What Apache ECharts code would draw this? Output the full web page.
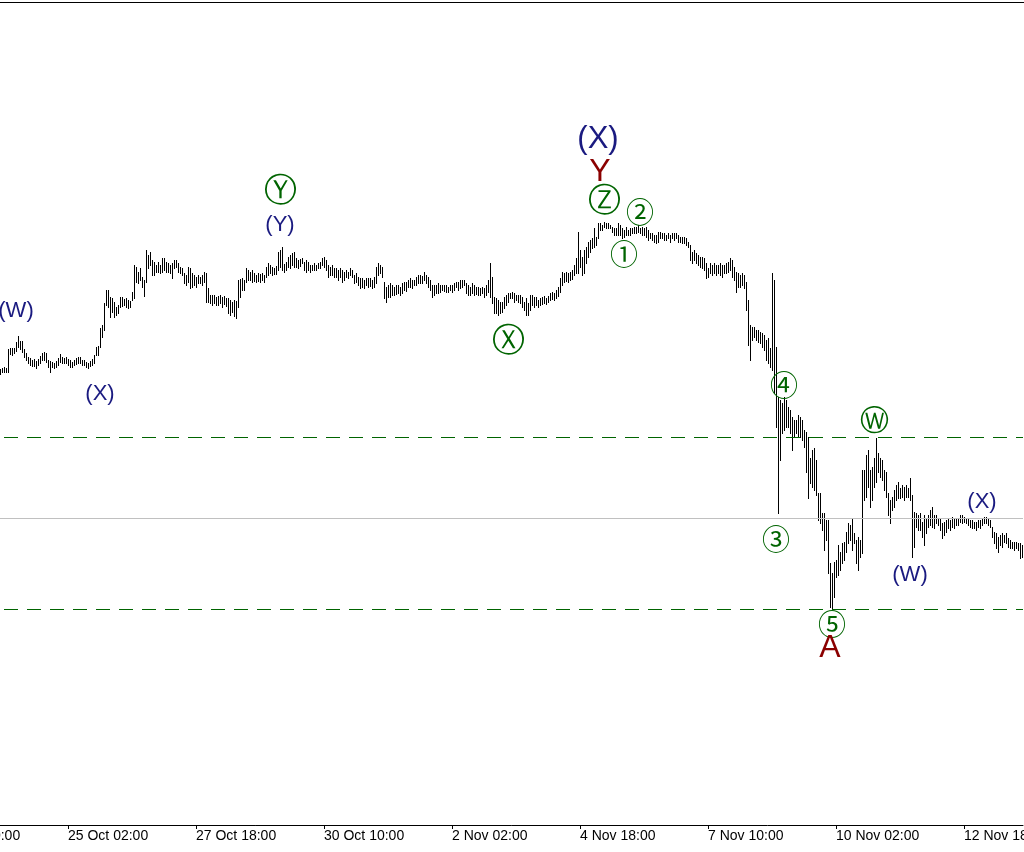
<!DOCTYPE html>
<html><head><meta charset="utf-8">
<script src="https://cdn.jsdelivr.net/npm/echarts@6/dist/echarts.min.js"></script>
<style>html,body{margin:0;padding:0;background:#fff}#c{width:1024px;height:852px}</style>
</head><body><div id="c"></div><script>
// Hourly bar highs / lows (price units), oldest first
const highs=[
2131,2132,2133,2132,2151,2152,2152,2152,2158,2164,
2159,2159,2151,2147,2143,2142,2140,2141,2139,2141,
2144,2147,2148,2147,2140,2139,2138,2137,2139,2142,
2146,2143,2142,2143,2141,2140,2138,2140,2142,2143,
2143,2140,2140,2138,2137,2139,2141,2145,2153,2154,
2172,2175,2197,2210,2210,2203,2202,2198,2193,2195,
2203,2203,2201,2202,2200,2199,2208,2235,2233,2228,
2232,2223,2220,2250,2245,2248,2240,2238,2235,2238,
2235,2242,2242,2238,2237,2235,2237,2240,2240,2237,
2233,2232,2227,2225,2233,2232,2227,2225,2223,2225,
2223,2225,2228,2227,2212,2205,2205,2205,2203,2204,
2205,2203,2204,2202,2202,2200,2198,2200,2199,2220,
2221,2222,2220,2232,2230,2228,2230,2227,2225,2227,
2226,2227,2225,2233,2237,2235,2233,2232,2234,2248,
2250,2253,2236,2238,2243,2245,2247,2248,2242,2240,
2241,2242,2238,2240,2238,2235,2235,2237,2235,2237,
2238,2242,2243,2240,2235,2233,2235,2232,2232,2230,
2232,2230,2228,2230,2228,2232,2230,2225,2227,2223,
2222,2222,2220,2222,2222,2222,2220,2223,2233,2237,
2235,2233,2218,2213,2215,2217,2215,2213,2215,2215,
2213,2217,2218,2218,2220,2222,2220,2220,2223,2225,
2225,2224,2228,2225,2223,2220,2215,2215,2215,2217,
2215,2215,2215,2215,2213,2215,2215,2217,2218,2218,
2220,2220,2220,2217,2215,2213,2217,2215,2213,2213,
2212,2213,2212,2215,2220,2237,2223,2203,2202,2200,
2198,2198,2203,2205,2207,2207,2208,2207,2205,2205,
2205,2203,2198,2202,2197,2205,2205,2203,2203,2200,
2202,2203,2204,2202,2204,2207,2208,2207,2210,2213,
2222,2228,2227,2228,2227,2228,2230,2235,2242,2268,
2250,2243,2250,2253,2258,2260,2262,2272,2263,2277,
2277,2275,2278,2277,2277,2275,2273,2272,2272,2277,
2275,2272,2270,2273,2270,2272,2272,2273,2273,2275,
2272,2273,2272,2273,2270,2267,2267,2265,2265,2268,
2268,2267,2267,2265,2267,2265,2267,2267,2267,2265,
2263,2263,2263,2262,2258,2255,2248,2250,2247,2245,
2243,2243,2242,2237,2232,2237,2235,2237,2235,2235,
2237,2235,2235,2237,2238,2242,2240,2233,2228,2227,
2225,2227,2225,2218,2200,2175,2173,2173,2170,2170,
2168,2167,2165,2160,2162,2152,2227,2220,2153,2103,
2100,2097,2103,2100,2093,2090,2083,2080,2080,2085,
2083,2080,2070,2068,2063,2042,2050,2052,2040,2007,
2007,1987,1987,1980,1980,1937,1927,1938,1940,1955,
1948,1957,1958,1968,1977,1975,1982,1967,1960,1963,
1960,2030,2030,2045,2050,2030,2033,2042,2062,2047,
2042,2040,2030,2028,2007,2000,2003,2010,2015,2018,
2012,2015,2013,2015,2012,2022,2005,1988,1987,1985,
1987,1978,1985,1982,1985,1990,1993,1985,1985,1982,
1982,1977,1978,1980,1982,1980,1983,1982,1982,1982,
1985,1985,1983,1982,1981,1980,1980,1978,1978,1980,
1980,1982,1983,1983,1982,1980,1973,1968,1967,1963,
1965,1967,1965,1967,1962,1960,1958,1958,1958,1957,
1957,1955];
const lows=[
2126,2128,2128,2128,2128,2146,2145,2147,2149,2153,
2151,2148,2143,2140,2137,2135,2134,2134,2132,2135,
2137,2140,2140,2138,2133,2128,2133,2132,2133,2135,
2138,2137,2137,2137,2135,2133,2133,2135,2136,2137,
2137,2135,2135,2133,2132,2134,2135,2137,2145,2145,
2153,2163,2170,2195,2193,2183,2188,2183,2185,2187,
2193,2194,2195,2193,2192,2193,2200,2202,2218,2217,
2220,2213,2204,2218,2232,2235,2225,2225,2228,2228,
2227,2228,2230,2228,2228,2227,2222,2232,2233,2228,
2227,2225,2217,2215,2218,2212,2213,2215,2213,2217,
2217,2215,2218,2198,2198,2197,2195,2197,2195,2195,
2197,2193,2196,2194,2187,2185,2188,2184,2182,2193,
2203,2210,2210,2218,2220,2220,2218,2219,2218,2219,
2218,2220,2218,2223,2225,2227,2225,2226,2226,2230,
2233,2230,2228,2230,2233,2232,2235,2233,2233,2232,
2234,2237,2230,2228,2230,2228,2230,2230,2230,2232,
2232,2235,2233,2230,2223,2225,2225,2223,2223,2220,
2223,2218,2220,2223,2222,2225,2223,2217,2218,2215,
2212,2213,2212,2215,2213,2214,2212,2213,2217,2225,
2227,2223,2202,2198,2203,2203,2205,2205,2206,2207,
2205,2207,2210,2209,2213,2213,2212,2215,2215,2217,
2217,2217,2220,2217,2213,2210,2203,2205,2207,2207,
2208,2210,2209,2208,2208,2210,2208,2210,2213,2210,
2212,2213,2215,2207,2205,2205,2207,2205,2206,2205,
2205,2207,2203,2205,2208,2203,2197,2187,2187,2185,
2187,2188,2192,2195,2198,2202,2202,2198,2200,2198,
2197,2193,2190,2185,2185,2190,2195,2193,2195,2193,
2195,2196,2197,2196,2198,2200,2201,2200,2202,2204,
2208,2215,2218,2219,2218,2220,2221,2225,2227,2227,
2233,2225,2227,2237,2243,2248,2252,2253,2255,2262,
2270,2270,2273,2272,2272,2272,2268,2265,2265,2265,
2265,2262,2263,2265,2265,2265,2267,2267,2267,2268,
2267,2265,2265,2263,2260,2262,2260,2258,2257,2258,
2262,2262,2260,2260,2262,2258,2262,2260,2262,2258,
2258,2257,2257,2255,2253,2240,2237,2240,2237,2235,
2233,2232,2230,2222,2223,2227,2225,2227,2225,2227,
2225,2223,2227,2227,2228,2230,2223,2220,2208,2213,
2213,2215,2212,2190,2155,2140,2160,2163,2160,2158,
2157,2153,2150,2140,2137,2133,2130,2107,2073,1987,
2040,2067,2070,2073,2073,2067,2050,2063,2067,2063,
2063,2060,2053,2028,2002,2017,2013,2010,2005,1980,
1977,1970,1950,1960,1927,1893,1892,1903,1923,1925,
1930,1937,1940,1948,1957,1960,1950,1957,1937,1930,
1943,1947,2000,2003,2013,1993,2000,2013,2018,2028,
2023,2020,2010,2003,1985,1977,1990,1993,2000,2002,
2002,2003,2000,2003,2003,2000,1943,1953,1973,1970,
1970,1963,1955,1967,1973,1975,1973,1972,1977,1975,
1970,1962,1965,1968,1972,1970,1973,1972,1975,1975,
1978,1977,1978,1977,1975,1973,1972,1972,1970,1973,
1972,1975,1977,1977,1975,1973,1963,1957,1952,1948,
1955,1953,1958,1957,1953,1952,1952,1950,1952,1950,
1942,1943];

// Time axis: hourly categories; a few hours before the first drawn bar
const leadHours = 32;
const firstHourUTC = Date.UTC(2022, 9, 22, 8, 0);
const monthNames = ['Jan','Feb','Mar','Apr','May','Jun','Jul','Aug','Sep','Oct','Nov','Dec'];
const firstLabelHour = 2;      // "22 Oct 10:00"
const labelEveryHours = 64;

// Horizontal levels
const dashedLevels = [2063, 1891];
const solidLevels = [1982];

// Wave annotations
const waveText  = ['(W)','(X)','\u24CE','(Y)','\u24CD','(X)','Y','\u24CF','\u2461','\u2460','\u2463','\u2462','\u24CC','\u2464','A','(W)','(X)'];
const waveBar   = [8, 50, 140, 140, 254, 299, 300, 302, 320, 312, 392, 388, 437, 416, 415, 455, 491];
const wavePrice = [2189, 2106, 2311, 2275, 2161, 2363, 2330, 2301, 2289, 2247, 2116, 1962, 2081, 1877, 1854, 1925, 1998];
const waveKind  = ['minor','minor','circL','minor','circL','major','red','circL','circD','circD','circD','circD','circS','circD','red','minor','minor'];

const kindStyle = {
  minor: {color:'#1a1a80', fontSize:22, fontFamily:'Liberation Sans'},
  major: {color:'#1a1a80', fontSize:31, fontFamily:'Liberation Sans', offset:[0,2]},
  red:   {color:'#8b0000', fontSize:32, fontFamily:'Liberation Sans', offset:[0,2]},
  circL: {color:'#006400', fontSize:33, fontFamily:'DejaVu Sans', offset:[0,3]},
  circS: {color:'#006400', fontSize:29, fontFamily:'DejaVu Sans', offset:[0,3]},
  circD: {color:'#006400', fontSize:28, fontFamily:'Noto Sans CJK JP', offset:[0,1]}
};

const categories = [];
for (let k = 0; k < leadHours + highs.length; k++) {
  const d = new Date(firstHourUTC + k * 3600000);
  const hh = String(d.getUTCHours()).padStart(2,'0');
  categories.push(d.getUTCDate() + ' ' + monthNames[d.getUTCMonth()] + ' ' + hh + ':00');
}
const barData = highs.map((h, i) => [leadHours + i, lows[i], h]);
const waveData = waveText.map((t, j) => ({
  value: [leadHours + waveBar[j], wavePrice[j]], name: t,
  label: Object.assign({}, kindStyle[waveKind[j]])
}));
const isLabel = (idx) => idx >= firstLabelHour && (idx - firstLabelHour) % labelEveryHours === 0;

const chart = echarts.init(document.getElementById('c'), null, {renderer:'canvas'});
chart.setOption({
  animation: false,
  backgroundColor: '#ffffff',
  grid: {left: -(2*leadHours + 1), right: 1, top: 3, bottom: 27, outerBoundsMode: 'none', containLabel: false},
  xAxis: {
    type: 'category', data: categories, boundaryGap: true,
    axisLine: {show: true, lineStyle: {color: '#000', width: 1}},
    axisTick: {show: true, alignWithLabel: true, length: 4, interval: (i) => isLabel(i), lineStyle: {color: '#000'}},
    axisLabel: {show: true, interval: (i) => isLabel(i), align: 'left', margin: 4, color: '#000', fontSize: 14, fontFamily: 'Liberation Sans'},
    splitLine: {show: false}
  },
  yAxis: {type: 'value', min: 1675, max: 2497, show: false, splitLine: {show: false}},
  graphic: [{type:'line', shape:{x1:0, y1:2.5, x2:1024, y2:2.5}, style:{stroke:'#000', lineWidth:1}, z: 100}],
  series: [
    {
      type: 'line', data: [], z: 1, silent: true,
      markLine: {
        silent: true, symbol: ['none','none'], label: {show: false}, animation: false,
        data: dashedLevels.map(v => ({yAxis: v, lineStyle: {color:'#006400', width:1, opacity:1, type:[14,9]}}))
          .concat(solidLevels.map(v => ({yAxis: v, lineStyle: {color:'#c0c0c0', width:1, opacity:1, type:'solid'}})))
      }
    },
    {
      type: 'custom', z: 2, data: barData, encode: {x: 0, y: [1, 2]},
      renderItem: function (params, api) {
        const k = api.value(0);
        const lo = api.coord([k, api.value(1)]);
        const hi = api.coord([k, api.value(2)]);
        const px = Math.round(lo[0]) + 0.5;
        return {type:'line', shape:{x1:px, y1:Math.round(lo[1]) + 1, x2:px, y2:Math.round(hi[1])},
                style:{stroke:'#000', lineWidth:1}};
      }
    },
    {
      type: 'scatter', z: 3, symbolSize: 0, data: waveData, silent: true,
      itemStyle: {opacity: 1},
      label: {show: true, position: 'inside', formatter: '{b}', align: 'center', verticalAlign: 'middle', opacity: 1}
    }
  ]
});
</script></body></html>
